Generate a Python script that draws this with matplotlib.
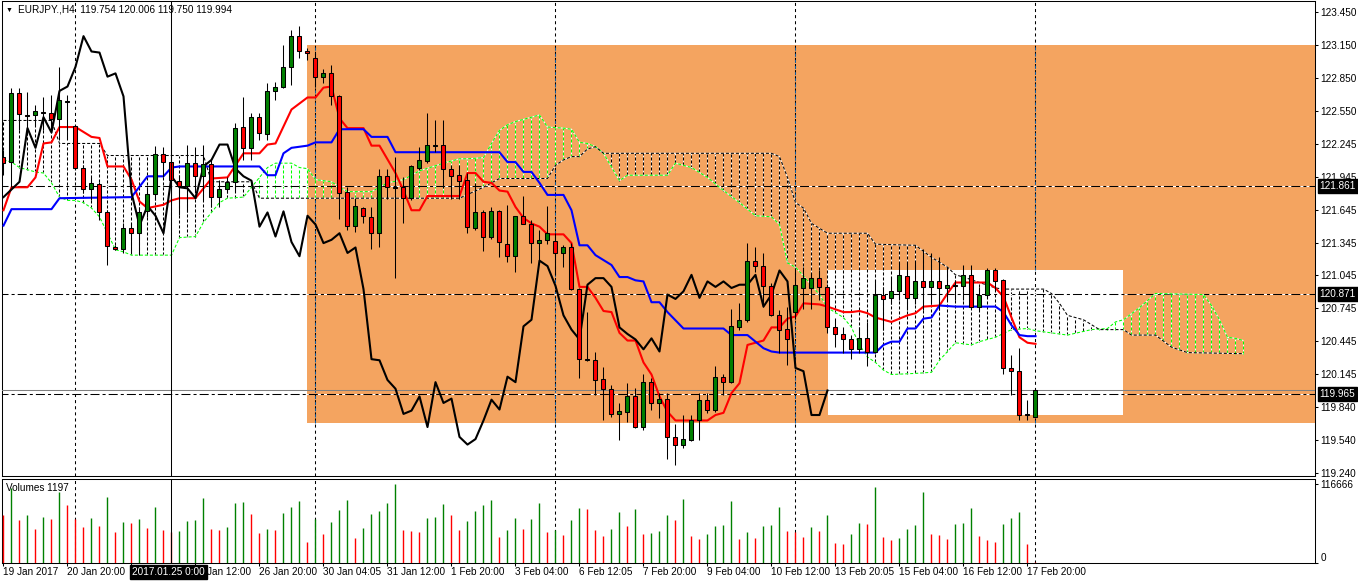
import numpy as np
import matplotlib.pyplot as plt
import matplotlib.transforms as mtransforms
from matplotlib.patches import Rectangle

plt.rcParams['font.family'] = ['Liberation Sans', 'DejaVu Sans']
plt.rcParams['lines.scale_dashes'] = False

# EURJPY H4 candles, bar 0 = 19 Jan 2017
opens = [
    122.13, 122.08, 122.71, 122.51, 122.51, 122.54, 122.53, 122.47, 122.63, 122.41,
    122.03, 121.83, 121.88, 121.62, 121.30, 121.29, 121.48, 121.43, 121.63, 121.79,
    122.15, 122.08, 121.91, 121.86, 122.07, 121.95, 122.06, 121.76, 121.83, 121.90,
    122.40, 122.21, 122.49, 122.34, 122.73, 122.77, 122.95, 123.23, 123.09, 123.03,
    122.86, 122.89, 122.68, 121.81, 121.50, 121.66, 121.58, 121.43, 121.95, 121.85,
    121.85, 121.75, 122.03, 122.09, 122.23, 122.24, 122.02, 121.96, 121.92, 121.48,
    121.62, 121.40, 121.63, 121.33, 121.22, 121.59, 121.51, 121.34, 121.37, 121.36,
    121.25, 121.30, 120.92, 120.28, 120.27, 120.10, 120.01, 119.78, 119.80, 119.94,
    119.66, 120.07, 119.88, 119.92, 119.57, 119.50, 119.54, 119.72, 119.91, 119.82,
    120.12, 120.07, 120.57, 120.64, 121.18, 121.13, 120.95, 120.68, 120.56, 120.71,
    120.93, 120.93, 121.02, 120.94, 120.57, 120.51, 120.46, 120.37, 120.47, 120.35,
    120.87, 120.84, 120.90, 121.04, 120.84, 120.99, 120.94, 120.99, 120.93, 120.95,
    120.95, 121.05, 120.76, 120.87, 121.09, 121.00, 120.20, 120.17, 119.78, 119.754,
]
highs = [
    122.19, 122.76, 122.76, 122.72, 122.60, 122.67, 122.69, 122.95, 122.69, 122.43,
    122.05, 121.94, 121.90, 121.64, 121.32, 121.52, 121.52, 121.67, 121.85, 122.23,
    122.22, 122.26, 121.96, 122.24, 122.22, 122.24, 122.10, 121.92, 121.94, 122.44,
    122.67, 122.53, 122.53, 122.80, 122.81, 123.15, 123.29, 123.32, 123.12, 123.08,
    122.93, 122.97, 122.69, 121.85, 121.75, 121.67, 121.67, 122.02, 122.02, 122.13,
    121.94, 122.05, 122.22, 122.53, 122.46, 122.46, 122.05, 122.05, 121.98, 121.89,
    121.64, 121.67, 121.64, 121.69, 121.59, 121.77, 121.55, 121.46, 121.68, 121.43,
    121.32, 121.34, 120.93, 120.71, 120.35, 120.21, 120.04, 119.88, 120.06, 120.02,
    120.14, 120.11, 119.97, 119.97, 119.69, 119.77, 119.77, 119.97, 119.97, 120.22,
    120.14, 120.74, 120.79, 121.34, 121.30, 121.25, 120.98, 120.73, 120.76, 121.11,
    121.12, 121.07, 121.09, 120.97, 120.66, 120.57, 120.50, 120.57, 120.62, 121.00,
    120.94, 121.03, 121.16, 121.16, 121.17, 121.29, 121.25, 121.21, 121.12, 121.00,
    121.14, 121.14, 120.94, 121.11, 121.11, 121.01, 120.32, 120.38, 119.91, 120.006,
]
lows = [
    121.96, 121.85, 122.37, 122.33, 122.42, 122.37, 122.37, 122.28, 122.28, 122.02,
    121.80, 121.73, 121.55, 121.14, 121.28, 121.25, 121.25, 121.23, 121.58, 121.73,
    121.94, 121.73, 121.60, 121.62, 121.80, 121.73, 121.67, 121.67, 121.80, 121.81,
    122.10, 122.10, 122.28, 122.28, 122.65, 122.76, 122.78, 123.03, 123.01, 122.77,
    122.80, 122.60, 121.56, 121.46, 121.44, 121.52, 121.29, 121.30, 121.74, 121.02,
    121.52, 121.73, 122.01, 122.07, 122.17, 121.84, 121.74, 121.74, 121.43, 121.46,
    121.27, 121.38, 121.21, 121.17, 121.08, 121.51, 121.16, 121.19, 121.33, 121.05,
    121.12, 120.91, 120.11, 120.26, 119.95, 119.72, 119.75, 119.54, 119.71, 119.65,
    119.63, 119.82, 119.74, 119.37, 119.31, 119.47, 119.53, 119.54, 119.79, 119.80,
    119.95, 120.06, 120.55, 120.62, 121.08, 120.76, 120.67, 120.34, 120.23, 120.65,
    120.74, 120.74, 120.82, 120.52, 120.39, 120.34, 120.28, 120.34, 120.22, 120.34,
    120.55, 120.78, 120.82, 120.73, 120.78, 120.73, 120.78, 120.73, 120.82, 120.82,
    120.82, 120.75, 120.73, 120.85, 120.91, 120.14, 119.95, 119.72, 119.72, 119.750,
]
closes = [
    122.07, 122.71, 122.52, 122.50, 122.55, 122.53, 122.47, 122.65, 122.64, 122.03,
    121.83, 121.89, 121.62, 121.31, 121.29, 121.48, 121.43, 121.62, 121.79, 122.15,
    122.08, 121.92, 121.86, 122.07, 121.95, 122.06, 121.76, 121.83, 121.90, 122.39,
    122.21, 122.49, 122.35, 122.73, 122.77, 122.95, 123.23, 123.09, 123.08, 122.86,
    122.89, 122.68, 121.80, 121.50, 121.68, 121.59, 121.43, 121.95, 121.85, 121.84,
    121.75, 122.04, 122.10, 122.24, 122.24, 122.02, 121.95, 121.91, 121.49, 121.62,
    121.40, 121.63, 121.35, 121.22, 121.59, 121.51, 121.34, 121.37, 121.43, 121.25,
    121.30, 120.92, 120.28, 120.27, 120.09, 120.01, 119.78, 119.81, 119.94, 119.66,
    120.07, 119.88, 119.92, 119.57, 119.50, 119.55, 119.72, 119.91, 119.82, 120.12,
    120.07, 120.58, 120.64, 121.18, 121.13, 120.95, 120.68, 120.55, 120.46, 120.96,
    121.02, 121.02, 120.94, 120.57, 120.51, 120.46, 120.37, 120.47, 120.35, 120.87,
    120.83, 120.90, 121.05, 120.84, 120.99, 120.94, 120.99, 120.93, 120.96, 120.96,
    121.05, 120.76, 120.87, 121.09, 120.99, 120.20, 120.17, 119.77, 119.77, 119.994,
]

# tick volume in thousands
volumes_k = [
    70.9, 110.8, 63.5, 70.9, 50.2, 67.9, 65.0, 104.9, 85.7, 65.0,
    53.2, 66.5, 54.6, 97.5, 45.8, 60.6, 59.1, 65.0, 51.7, 82.7,
    48.7, 45.8, 47.3, 62.0, 63.5, 96.0, 50.2, 48.7, 53.2, 88.6,
    90.1, 72.4, 44.3, 50.2, 48.7, 73.9, 82.7, 91.6, 31.0, 65.0,
    42.8, 60.6, 78.3, 93.1, 36.9, 51.7, 72.4, 76.8, 88.6, 116.666,
    48.7, 47.3, 45.8, 66.5, 67.9, 87.1, 70.9, 48.7, 62.0, 76.8,
    85.7, 93.1, 38.4, 48.7, 66.5, 50.2, 65.0, 88.6, 45.8, 48.7,
    41.4, 63.5, 81.2, 79.8, 48.7, 39.9, 50.2, 75.3, 54.6, 79.8,
    42.8, 44.3, 47.3, 70.9, 63.5, 94.5, 39.9, 35.4, 42.8, 54.6,
    56.1, 91.6, 35.4, 45.8, 36.9, 54.6, 56.1, 82.7, 47.3, 45.8,
    38.4, 53.2, 47.3, 70.9, 29.5, 28.1, 42.8, 59.1, 57.6, 112.3,
    38.4, 34.0, 36.9, 50.2, 56.1, 104.9, 42.8, 41.4, 35.4, 57.6,
    59.1, 81.2, 39.9, 34.0, 31.0, 57.6, 66.5, 75.3, 28.1, 1.197,
]

# Ichimoku lines, read as (bar, price) vertices
tenkan_bars = [0, 1, 3, 4, 5, 6, 7, 9, 11, 12, 13, 15, 16, 17, 18, 20, 21, 22, 24, 26,
               28, 30, 32, 33, 34, 36, 38, 39, 40, 41, 42, 43, 45, 46, 47, 49, 50, 51, 52, 53,
               57, 58, 59, 60, 61, 62, 63, 64, 65, 66, 67, 68, 70, 71, 72, 73, 74, 75, 76, 77,
               78, 79, 80, 81, 82, 83, 84, 88, 89, 90, 91, 92, 93, 95, 96, 97, 98, 99, 100, 102,
               103, 105, 106, 107, 108, 109, 111, 112, 113, 114, 115, 117, 118, 119, 123, 124, 125, 126, 127, 128,
               129]
tenkan_vals = [121.64, 121.85, 121.85, 121.94, 122.25, 122.26, 122.40, 122.40, 122.31, 122.30,
               122.04, 122.04, 121.92, 121.72, 121.66, 121.69, 121.73, 121.75, 121.75, 121.93,
               121.94, 122.16, 122.16, 122.24, 122.25, 122.56, 122.67, 122.67, 122.76, 122.77,
               122.48, 122.39, 122.39, 122.23, 122.23, 121.98, 121.82, 121.64, 121.64, 121.77,
               121.77, 121.98, 121.98, 121.90, 121.89, 121.82, 121.81, 121.67, 121.57, 121.52,
               121.49, 121.42, 121.42, 121.34, 120.94, 120.94, 120.84, 120.72, 120.71, 120.52,
               120.45, 120.45, 120.25, 120.14, 119.94, 119.80, 119.72, 119.72, 119.77, 119.79,
               119.97, 120.06, 120.41, 120.45, 120.57, 120.57, 120.65, 120.67, 120.79, 120.78,
               120.76, 120.71, 120.71, 120.72, 120.70, 120.66, 120.62, 120.65, 120.68, 120.70,
               120.76, 120.77, 120.88, 120.98, 120.98, 120.93, 120.85, 120.66, 120.48, 120.43,
               120.42]

kijun_bars = [0, 1, 6, 7, 16, 18, 20, 21, 22, 32, 33, 34, 35, 36, 38, 39, 41, 42, 45, 46,
              48, 49, 62, 63, 64, 65, 66, 67, 68, 70, 71, 72, 73, 74, 76, 77, 78, 79, 80, 81,
              82, 83, 85, 90, 91, 93, 95, 96, 97, 109, 110, 111, 112, 113, 114, 115, 116, 117, 119, 124,
              125, 126, 127, 128, 129]
kijun_vals = [121.50, 121.65, 121.65, 121.75, 121.76, 121.95, 121.95, 122.03, 122.04, 122.04,
              121.96, 121.96, 122.16, 122.21, 122.23, 122.26, 122.26, 122.38, 122.38, 122.31,
              122.31, 122.17, 122.17, 122.08, 122.08, 121.99, 121.99, 121.89, 121.78, 121.78,
              121.64, 121.32, 121.32, 121.23, 121.14, 121.03, 121.03, 121.00, 120.99, 120.80,
              120.80, 120.71, 120.56, 120.56, 120.50, 120.50, 120.38, 120.35, 120.34, 120.34,
              120.41, 120.44, 120.44, 120.56, 120.56, 120.65, 120.66, 120.77, 120.76, 120.76,
              120.71, 120.59, 120.50, 120.49, 120.49]

span_a_bars = [0, 1, 2, 3, 4, 5, 6, 7, 8, 9, 10, 11, 12, 13, 14, 15, 16, 21, 22, 24,
               25, 27, 28, 30, 31, 32, 33, 34, 36, 37, 38, 39, 41, 42, 43, 46, 47, 48, 50, 51,
               52, 55, 57, 58, 60, 61, 62, 63, 64, 65, 67, 68, 70, 71, 72, 73, 74, 75, 77, 78,
               83, 84, 86, 88, 90, 92, 94, 96, 97, 98, 99, 100, 102, 103, 105, 106, 107, 108, 109, 110,
               111, 114, 116, 117, 118, 119, 121, 122, 124, 126, 128, 129, 130, 133, 136, 138, 139, 140, 142, 144,
               150, 151, 152, 153, 154, 155]
span_a_vals = [122.10, 122.08, 122.03, 122.01, 121.99, 121.98, 121.89, 121.76, 121.73, 121.73,
               121.71, 121.66, 121.58, 121.43, 121.28, 121.26, 121.23, 121.23, 121.39, 121.40,
               121.53, 121.71, 121.75, 121.76, 121.85, 121.94, 122.03, 122.07, 122.07, 122.03,
               122.02, 121.92, 121.90, 121.85, 121.81, 121.81, 121.85, 121.89, 121.92, 121.96,
               122.00, 122.07, 122.11, 122.11, 122.12, 122.25, 122.37, 122.42, 122.45, 122.47,
               122.51, 122.40, 122.39, 122.38, 122.26, 122.25, 122.22, 122.16, 121.91, 121.96,
               121.96, 122.07, 122.03, 121.94, 121.82, 121.71, 121.59, 121.58, 121.51, 121.16,
               121.12, 121.04, 120.87, 120.75, 120.66, 120.57, 120.41, 120.30, 120.25, 120.18,
               120.14, 120.15, 120.16, 120.27, 120.35, 120.43, 120.41, 120.44, 120.48, 120.55,
               120.56, 120.54, 120.53, 120.50, 120.55, 120.56, 120.62, 120.64, 120.75, 120.88,
               120.87, 120.77, 120.64, 120.48, 120.47, 120.45]

span_b_bars = [0, 6, 7, 12, 13, 25, 26, 31, 32, 57, 60, 62, 68, 69, 70, 71, 72, 73, 74, 75,
               96, 97, 98, 99, 100, 101, 103, 108, 109, 114, 116, 118, 119, 120, 124, 125, 130, 131, 132, 133,
               135, 137, 140, 141, 144, 146, 148, 155]
span_b_vals = [122.46, 122.46, 122.25, 122.25, 122.14, 122.14, 121.90, 121.90, 121.75, 121.75,
               121.85, 121.93, 121.93, 122.05, 122.10, 122.13, 122.13, 122.20, 122.22, 122.16,
               122.16, 122.13, 121.94, 121.71, 121.66, 121.52, 121.43, 121.43, 121.33, 121.32,
               121.21, 121.12, 121.05, 121.03, 120.93, 120.92, 120.92, 120.88, 120.79, 120.68,
               120.64, 120.55, 120.55, 120.50, 120.50, 120.39, 120.34, 120.33]

price_ticks = [123.450, 123.150, 122.850, 122.550, 122.245, 121.945, 121.645, 121.345,
               121.045, 120.745, 120.445, 120.145, 119.840, 119.540, 119.240]
time_tick_bars = [0, 8, 16, 24, 32, 40, 48, 56, 64, 72, 80, 88, 96, 104, 112, 120, 128]
# labels at bars 16 and 24 sit under the cursor time box; only "Jan 12:00" shows
time_tick_labels = ['19 Jan 2017', '20 Jan 20:00', '', '', '26 Jan 20:00',
                    '30 Jan 04:05', '31 Jan 12:00', '1 Feb 20:00', '3 Feb 04:00', '6 Feb 12:05',
                    '7 Feb 20:00', '9 Feb 04:00', '10 Feb 12:00', '13 Feb 20:05', '15 Feb 04:00',
                    '16 Feb 12:00', '17 Feb 20:00']
partial_label = 'Jan 12:00'
cursor_label = '2017.01.25 0:00'

hline_prices = [121.861, 120.871, 119.965]
bid_price = 119.994
grid_bars = [9, 39, 69, 99, 129]
cursor_bar = 21

# rectangle objects (bar, price corners)
orange_box = (37.94, 119.70, 123.15)
white_box = (103.06, 139.9, 119.77, 121.09)

SHIFT = 26
ORANGE = '#F4A460'
GREEN = '#008000'
GRID_ON_ORANGE = '#0b5b9f'


def gapped_line(ax, x, y, color, dashes, lw=0.75, zorder=3.0):
    # MT4 styled lines paint their gaps with the chart background (white)
    ax.plot(x, y, color='white', lw=lw, zorder=zorder, solid_capstyle='butt')
    ax.plot(x, y, color=color, lw=lw, dashes=dashes, zorder=zorder + 0.01)


def main():
    W, H = 1358, 584
    fig = plt.figure(figsize=(W / 100, H / 100), dpi=100)
    ax = fig.add_axes([2 / W, 1 - 476 / H, 1313 / W, 475 / H])
    axv = fig.add_axes([2 / W, 1 - 563 / H, 1313 / W, 84 / H])

    x = np.arange(len(opens))
    o, h, l, c = map(np.array, (opens, highs, lows, closes))
    vols = np.array(volumes_k) * 1000

    for a in (ax, axv):
        a.set_xlim(-0.1875, 163.94)
        for s in a.spines.values():
            s.set_linewidth(0.75)
    ax.set_ylim(119.213, 123.551)
    axv.set_ylim(0, 124050)

    # rectangles
    ax.add_patch(Rectangle((orange_box[0], orange_box[1]), 200, orange_box[2] - orange_box[1],
                           fc=ORANGE, ec='none', zorder=1))
    ax.add_patch(Rectangle((white_box[0], white_box[2]), white_box[1] - white_box[0],
                           white_box[3] - white_box[2], fc='white', ec='none', zorder=1.2))

    # vertical grid, inverted colour where it crosses the orange box
    for a in (ax, axv):
        a.vlines(grid_bars, 0, 1, transform=a.get_xaxis_transform(), color='black',
                 lw=0.75, linestyles=(0, (2.2, 2.2)), zorder=1.8)
    for gb in grid_bars:
        if gb < orange_box[0]:
            continue
        segs = [(orange_box[1], orange_box[2])]
        if white_box[0] <= gb <= white_box[1]:
            segs = [(orange_box[1], white_box[2]), (white_box[3], orange_box[2])]
        for y0, y1 in segs:
            ax.vlines(gb, y0, y1, color=GRID_ON_ORANGE, lw=0.75,
                      linestyles=(0, (2.2, 2.2)), zorder=1.85)

    # cloud hatching between span A and span B
    cb = np.arange(0, span_a_bars[-1] + 1)
    sa = np.interp(cb, span_a_bars, span_a_vals)
    sb = np.interp(cb, span_b_bars, span_b_vals)
    hatch_col = np.where(sa > sb, '#00ff00', 'black')
    ax.vlines(cb, np.minimum(sa, sb), np.maximum(sa, sb), color='white', lw=0.75, zorder=2.5)
    ax.vlines(cb, np.minimum(sa, sb), np.maximum(sa, sb), colors=hatch_col, lw=0.75,
              linestyles=(0, (2.2, 1.4)), zorder=2.51)
    gapped_line(ax, span_a_bars, span_a_vals, '#00ff00', (2.2, 1.4), zorder=3)
    gapped_line(ax, span_b_bars, span_b_vals, 'black', (2.2, 1.4), zorder=3)

    # horizontal line objects and bid line
    for p in hline_prices:
        gapped_line(ax, [-1, 170], [p, p], 'black', (6.5, 2.2, 2.2, 2.2), zorder=2.8)
    ax.axhline(bid_price, color='#808080', lw=0.75, zorder=2.7)

    # tenkan, kijun, chikou
    ax.plot(tenkan_bars, tenkan_vals, color='red', lw=1.5, zorder=4)
    ax.plot(kijun_bars, kijun_vals, color='blue', lw=1.5, zorder=4)
    ax.plot(x[:-SHIFT], c[SHIFT:], color='black', lw=1.5, zorder=4)

    # candles
    ax.vlines(x, l, h, color='black', lw=0.75, zorder=5)
    body_low = np.minimum(o, c)
    body_h = np.maximum(np.abs(c - o), 0.004)
    ax.bar(x, body_h, bottom=body_low, width=0.5,
           color=np.where(c >= o, GREEN, 'red'), edgecolor='black', linewidth=0.75, zorder=6)

    # volumes: green when higher than the previous bar
    vol_col = ['red'] + [GREEN if vols[i] > vols[i - 1] else 'red' for i in range(1, len(vols))]
    axv.vlines(x, 0, vols, colors=vol_col, lw=1.0, zorder=3)

    # crosshair
    for a in (ax, axv):
        a.axvline(cursor_bar, color='black', lw=0.75, zorder=7)

    # axes ticks
    ax.yaxis.tick_right()
    ax.set_yticks(price_ticks)
    ax.set_yticklabels([f'{p:.3f}' for p in price_ticks])
    ax.tick_params(axis='y', length=2.2, width=0.75, pad=1.5, labelsize=7.2)
    ax.tick_params(axis='x', bottom=False, labelbottom=False)

    axv.yaxis.tick_right()
    axv.set_yticks([116666, 0])
    axv.set_yticklabels(['116666', '0'])
    axv.get_yticklabels()[1].set_va('bottom')
    axv.tick_params(axis='y', length=2.2, width=0.75, pad=1.5, labelsize=7.2)
    axv.set_xticks(time_tick_bars)
    axv.set_xticklabels(time_tick_labels, ha='left')
    axv.tick_params(axis='x', length=2.2, width=0.75, pad=1.0, labelsize=7.2)

    # price boxes on the right axis
    blend = mtransforms.blended_transform_factory(ax.transAxes, ax.transData)
    for p in hline_prices:
        ax.text(1.0035, p, f'{p:.3f}', transform=blend, ha='left', va='center', color='white',
                fontsize=7.2, zorder=10, clip_on=False,
                bbox=dict(boxstyle='square,pad=0.2', fc='black', ec='black'))

    # cursor time box and the visible tail of the label it hides
    tblend = mtransforms.blended_transform_factory(axv.transData, axv.transAxes)
    axv.text(16.1, -0.107, cursor_label, transform=tblend, ha='left', va='center',
             color='white', fontsize=7.2, zorder=10, clip_on=False,
             bbox=dict(boxstyle='square,pad=0.2', fc='black', ec='black'))
    tail = mtransforms.offset_copy(tblend, fig=fig, x=8.5, y=0, units='points')
    axv.text(24, -0.107, partial_label, transform=tail, ha='left', va='center',
             fontsize=7.2, clip_on=False)

    # header and indicator caption
    fig.text(6 / W, 1 - 10 / H, '\u25bc', fontsize=5, va='center', ha='left')
    fig.text(18 / W, 1 - 10 / H, 'EURJPY.,H4  119.754 120.006 119.750 119.994',
             fontsize=7.2, va='center', ha='left')
    axv.text(4 / 1313, 0.89, 'Volumes 1197', transform=axv.transAxes, fontsize=7.2,
             va='center', ha='left', zorder=10)

    fig.savefig('out.png', dpi=100)


if __name__ == '__main__':
    main()
